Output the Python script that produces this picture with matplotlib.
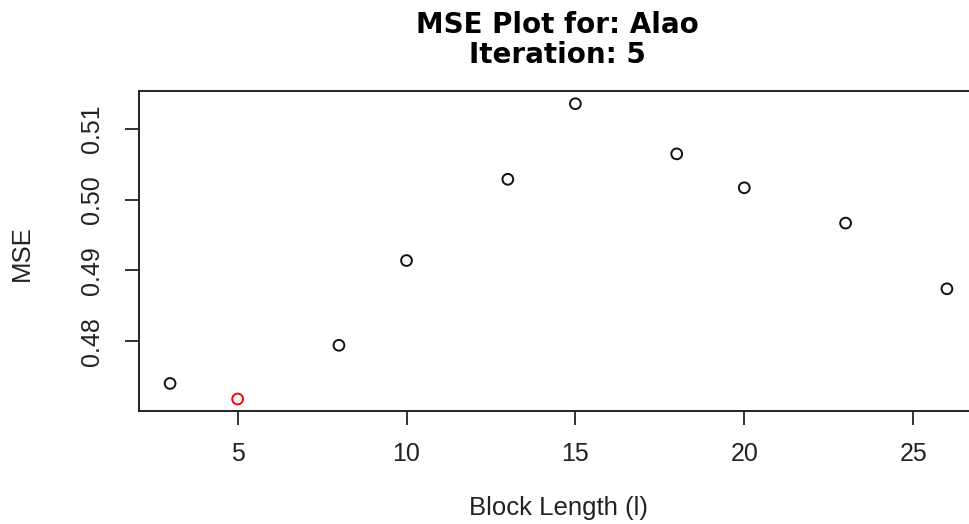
import matplotlib
matplotlib.use("Agg")
import matplotlib.pyplot as plt

block_length = [3, 5, 8, 10, 13, 15, 18, 20, 23, 26]
mse = [0.4740, 0.4718, 0.4794, 0.4914, 0.5029, 0.5136, 0.5065, 0.5017, 0.4967, 0.4874]
best_idx = 1
x_ticks = [5, 10, 15, 20, 25]
y_ticks = [0.48, 0.49, 0.50, 0.51]
y_tick_labels = ["0.48", "0.49", "0.50", "0.51"]

plt.rcParams['font.family'] = ['Liberation Sans', 'DejaVu Sans']

W, H = 969, 524
fig = plt.figure(figsize=(W / 100, H / 100), dpi=100)
ax = fig.add_axes([139 / W, (H - 411) / H, (978 - 139) / W, (411 - 91) / H])

colors = ['red' if i == best_idx else '#111111' for i in range(len(block_length))]
ax.scatter(block_length, mse, facecolors='none', edgecolors=colors, s=60, linewidths=1.4, zorder=3)

ax.set_xlim(2.08, 26.92)
ax.set_ylim(0.4701, 0.5154)
ax.set_xticks(x_ticks)
ax.set_xticklabels([str(v) for v in x_ticks])
ax.set_yticks(y_ticks)
ax.set_yticklabels(y_tick_labels, rotation=90, va='center')

for s in ax.spines.values():
    s.set_linewidth(1.4)
    s.set_color('#222222')
ax.tick_params(axis='both', length=10, width=1.4, labelsize=18, color='#333333', labelcolor='#222222')
ax.tick_params(axis='x', pad=12)
ax.tick_params(axis='y', pad=15)

ax.set_xlabel("Block Length (l)", fontsize=18.5, labelpad=22, color='#222222')
fig.text(22 / W, 1 - 253 / H, "MSE", rotation=90, ha='center', va='center', fontsize=18.5, color='#222222')

fig.text(557 / W, 1 - 25 / H, "MSE Plot for: Alao", ha='center', va='center',
         fontsize=20, fontweight='bold', family=['DejaVu Sans'])
fig.text(557 / W, 1 - 55 / H, "Iteration: 5", ha='center', va='center',
         fontsize=20, fontweight='bold', family=['DejaVu Sans'])

fig.savefig("out.png", dpi=100)
